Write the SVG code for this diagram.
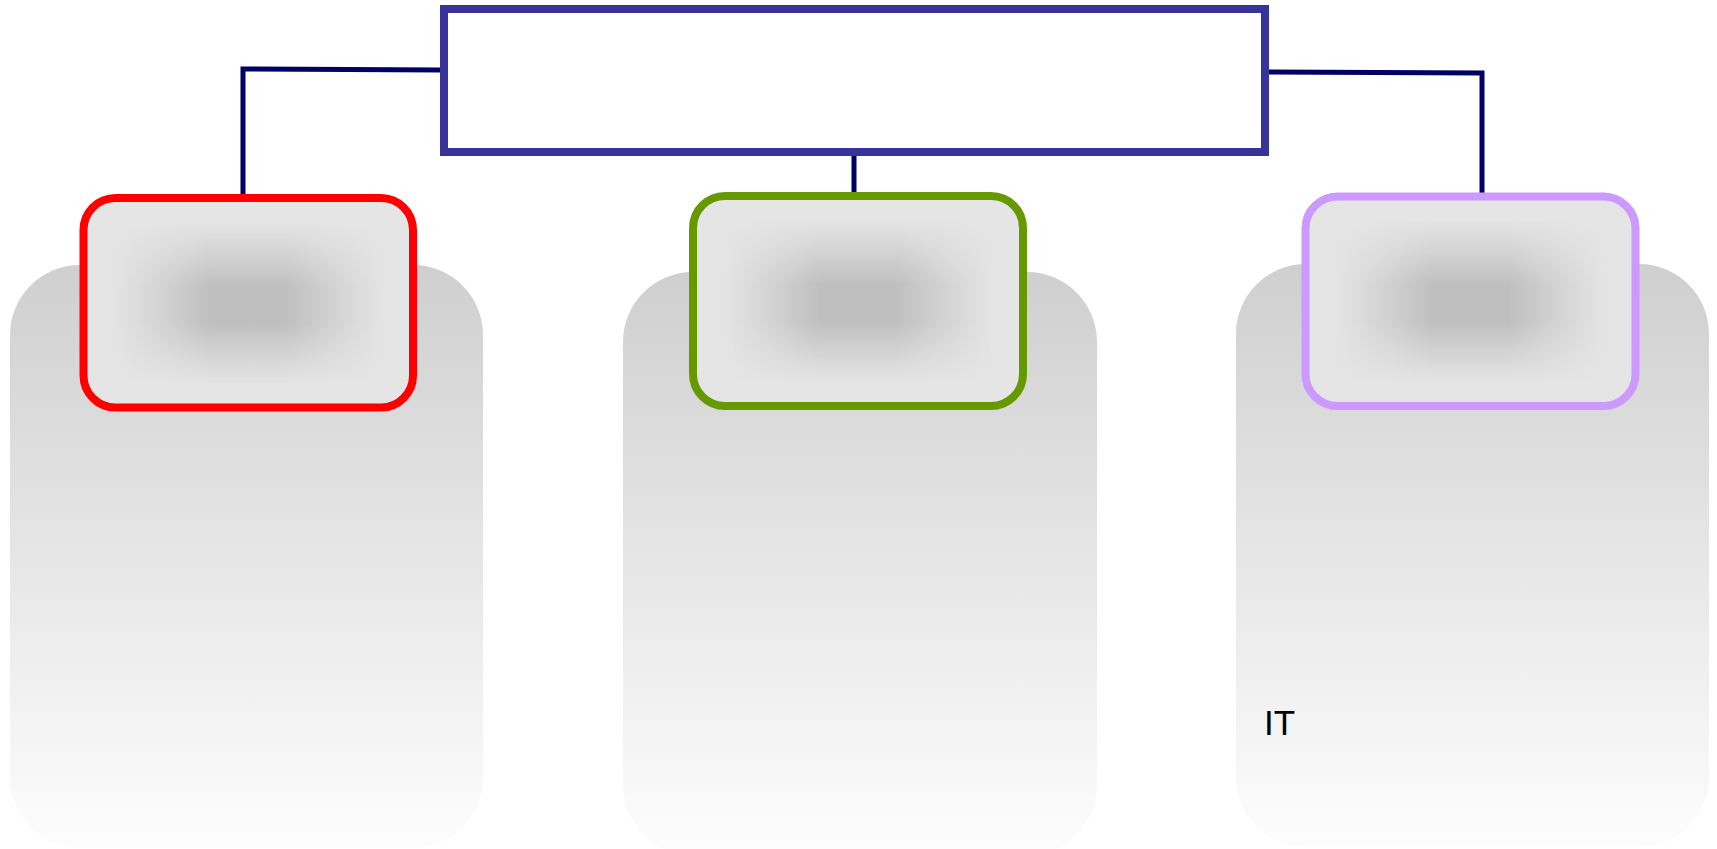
<svg xmlns="http://www.w3.org/2000/svg" width="1717" height="849" viewBox="0 0 1717 849">
<defs>
<linearGradient id="panelGrad" x1="0" y1="0" x2="0" y2="1">
<stop offset="0" stop-color="#cfcfcf"/>
<stop offset="1" stop-color="#fdfdfd"/>
</linearGradient>
<linearGradient id="hMaskGrad" x1="0" y1="0" x2="1" y2="0">
<stop offset="0" stop-color="#000000"/>
<stop offset="0.08" stop-color="#000000"/>
<stop offset="0.22" stop-color="#707070"/>
<stop offset="0.38" stop-color="#ffffff"/>
<stop offset="0.62" stop-color="#ffffff"/>
<stop offset="0.78" stop-color="#707070"/>
<stop offset="0.92" stop-color="#000000"/>
<stop offset="1" stop-color="#000000"/>
</linearGradient>
<mask id="hMask" maskContentUnits="objectBoundingBox">
<rect width="1" height="1" fill="url(#hMaskGrad)"/>
</mask>
<linearGradient id="vOver" x1="0" y1="0" x2="0" y2="1">
<stop offset="0" stop-color="#bfbfbf" stop-opacity="0"/>
<stop offset="0.1" stop-color="#bfbfbf" stop-opacity="0"/>
<stop offset="0.25" stop-color="#bfbfbf" stop-opacity="0.45"/>
<stop offset="0.42" stop-color="#bfbfbf" stop-opacity="1"/>
<stop offset="0.6" stop-color="#bfbfbf" stop-opacity="1"/>
<stop offset="0.76" stop-color="#bfbfbf" stop-opacity="0.45"/>
<stop offset="0.9" stop-color="#bfbfbf" stop-opacity="0"/>
<stop offset="1" stop-color="#bfbfbf" stop-opacity="0"/>
</linearGradient>
</defs>
<style>
.panel{fill:url(#panelGrad);stroke:none}
.box{fill:#e5e5e5;stroke-width:8}
.shade{fill:url(#vOver);stroke:none}
.conn{fill:none;stroke:#000066;stroke-width:5}
.label{font-family:"Liberation Sans",Arial,sans-serif;font-size:35px;fill:#000000}
</style>
<rect width="1717" height="849" fill="#ffffff"/>
<g id="connectors">
<polyline class="conn" points="441,70 243,69 243,195"/>
<polyline class="conn" points="1268,72 1482,73 1482,194"/>
<line class="conn" x1="854" y1="156" x2="854" y2="193"/>
</g>
<g id="top-node">
<rect x="444" y="9" width="821" height="143" fill="#ffffff" stroke="#373399" stroke-width="8"/>
</g>
<g id="node-left">
<rect class="panel" x="10" y="265" width="473" height="583" rx="70" ry="70"/>
<rect class="box" x="83.5" y="198" width="329.5" height="209.5" rx="32" ry="32" stroke="#ff0000"/>
<rect class="shade" x="87.5" y="202" width="321.5" height="201.5" rx="28" ry="28" mask="url(#hMask)"/>
</g>
<g id="node-middle">
<rect class="panel" x="623" y="272" width="474" height="583" rx="70" ry="70"/>
<rect class="box" x="693" y="196" width="330" height="210" rx="32" ry="32" stroke="#669900"/>
<rect class="shade" x="697" y="200" width="322" height="202" rx="28" ry="28" mask="url(#hMask)"/>
</g>
<g id="node-right">
<rect class="panel" x="1236" y="264" width="473" height="583" rx="70" ry="70"/>
<rect class="box" x="1305.5" y="196.5" width="330" height="209.5" rx="32" ry="32" stroke="#cc99ff"/>
<rect class="shade" x="1309.5" y="200.5" width="322" height="201.5" rx="28" ry="28" mask="url(#hMask)"/>
<text class="label" x="1264" y="735">IT</text>
</g>
</svg>
